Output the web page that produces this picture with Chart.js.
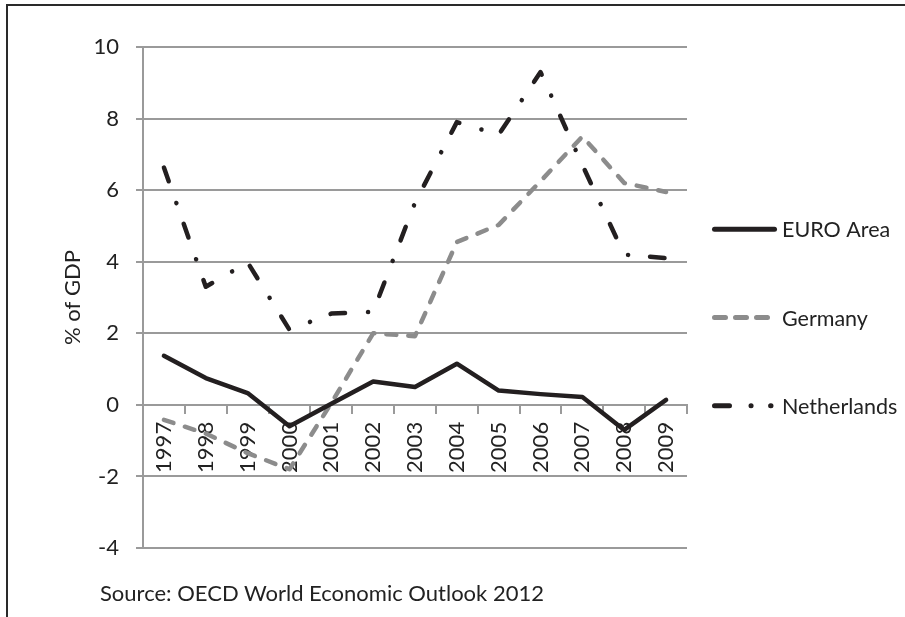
<!DOCTYPE html>
<html>
<head>
<meta charset="utf-8">
<script src="https://cdn.jsdelivr.net/npm/chart.js@4/dist/chart.umd.min.js"></script>
<style>
html,body{margin:0;padding:0;background:#fff;}
#wrap{position:relative;width:905px;height:617px;overflow:hidden;background:#fff;}
#frame{position:absolute;left:6px;top:4px;width:920px;height:640px;border-left:2px solid #2a2a2a;border-top:2px solid #2a2a2a;pointer-events:none;}
#src{position:absolute;left:100px;top:580px;font-family:Lato,sans-serif;font-size:22px;line-height:26px;color:#222;white-space:nowrap;}
canvas{position:absolute;left:0;top:0;}
</style>
</head>
<body>
<div id="wrap">
  <canvas id="c" width="905" height="617"></canvas>
  <div id="frame"></div>
  <div id="src">Source: OECD World Economic Outlook 2012</div>
</div>
<script>
const years = ['1997','1998','1999','2000','2001','2002','2003','2004','2005','2006','2007','2008','2009'];
const seriesNames = ['EURO Area', 'Germany', 'Netherlands'];
const euroArea = [1.37, 0.75, 0.33, -0.6, 0.03, 0.65, 0.5, 1.15, 0.4, 0.3, 0.22, -0.7, 0.14];
const germany = [-0.42, -0.8, -1.35, -1.8, 0.05, 2.0, 1.92, 4.55, 5.03, 6.25, 7.5, 6.2, 5.95];
const netherlands = [6.63, 3.3, 3.98, 2.1, 2.55, 2.6, 5.65, 7.9, 7.55, 9.3, 6.7, 4.2, 4.1];
const yMin = -4, yMax = 10, yStep = 2;
const yTitle = '% of GDP';

const FONT = 'Lato, sans-serif';
const TEXT = '#222222';
const GRID = '#9a9a9a';

const sideLegend = {
  id: 'sideLegend',
  afterDraw(chart, args, opts) {
    const ctx = chart.ctx;
    const ca = chart.chartArea;
    chart.data.datasets.forEach((ds, i) => {
      const y = ca.top + opts.firstY + i * opts.gap;
      const x0 = ca.right + opts.lineStart;
      ctx.save();
      ctx.strokeStyle = ds.borderColor;
      ctx.lineWidth = opts.lineWidth;
      ctx.lineCap = 'round';
      ctx.setLineDash(ds.legendDash || []);
      ctx.beginPath();
      ctx.moveTo(x0, y);
      ctx.lineTo(x0 + ds.legendLen, y);
      ctx.stroke();
      ctx.setLineDash([]);
      ctx.fillStyle = TEXT;
      ctx.font = '21.5px ' + FONT;
      ctx.textBaseline = 'alphabetic';
      ctx.textAlign = 'left';
      ctx.fillText(ds.label, ca.right + opts.textStart, y + 8);
      ctx.restore();
    });
  }
};

new Chart(document.getElementById('c'), {
  type: 'line',
  data: {
    labels: years,
    datasets: [
      {
        label: seriesNames[0], data: euroArea,
        borderColor: '#231f20', borderWidth: 4.5,
        borderJoinStyle: 'round', borderCapStyle: 'round',
        pointRadius: 0, tension: 0,
        legendDash: [], legendLen: 60
      },
      {
        label: seriesNames[1], data: germany,
        borderColor: '#8c8c8c', borderWidth: 4.5,
        borderDash: [10, 12], borderCapStyle: 'round', borderJoinStyle: 'round',
        pointRadius: 0, tension: 0,
        legendDash: [11, 10], legendLen: 53
      },
      {
        label: seriesNames[2], data: netherlands,
        borderColor: '#231f20', borderWidth: 4.5,
        borderDash: [14.5, 23, 0.1, 22], borderCapStyle: 'round', borderJoinStyle: 'round',
        pointRadius: 0, tension: 0,
        legendDash: [15, 21.5, 0.1, 19.5], legendLen: 56.5
      }
    ]
  },
  options: {
    responsive: false,
    animation: false,
    devicePixelRatio: 1,
    layout: { padding: { top: 47, right: 218, bottom: 69, left: 0 } },
    plugins: {
      legend: { display: false },
      tooltip: { enabled: false },
      sideLegend: { firstY: 182.3, gap: 88.2, lineStart: 27.5, textStart: 95, lineWidth: 5 }
    },
    scales: {
      x: {
        type: 'category',
        position: { y: 0 },
        offset: true,
        grid: { offset: true, drawOnChartArea: false, drawTicks: true, tickLength: 8, color: GRID, lineWidth: 2 },
        border: { display: true, color: GRID, width: 2 },
        ticks: {
          autoSkip: false, minRotation: 90, maxRotation: 90, padding: 9,
          font: { family: FONT, size: 22 }, color: TEXT
        }
      },
      y: {
        min: yMin, max: yMax,
        afterFit(scale) { scale.width = 143; },
        grid: { color: GRID, lineWidth: 2, tickLength: 7, drawTicks: true },
        border: { display: true, color: GRID, width: 2 },
        ticks: {
          stepSize: yStep, padding: 17,
          font: { family: FONT, size: 22 }, color: TEXT
        },
        title: {
          display: true, text: yTitle,
          font: { family: FONT, size: 22 }, color: TEXT,
          padding: { top: 60, bottom: 0 }
        }
      }
    }
  },
  plugins: [sideLegend]
});
</script>
</body>
</html>
